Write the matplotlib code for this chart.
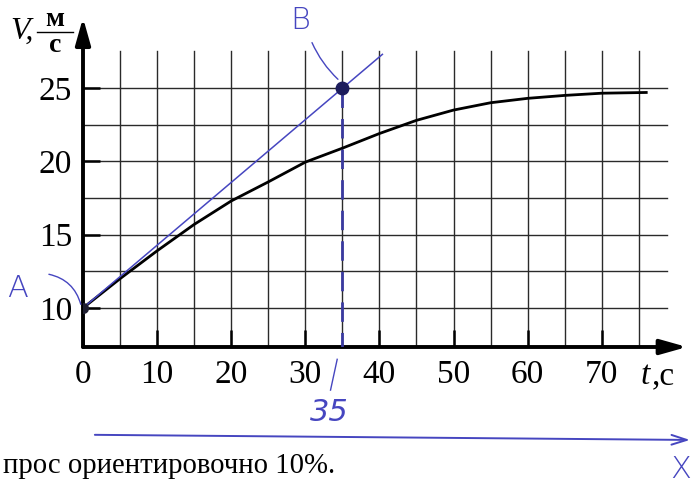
import numpy as np
import matplotlib.pyplot as plt

# curve
t_pts = [0, 5, 10, 15, 20, 25, 30, 35, 40, 45, 50, 55, 60, 65, 70, 76]
v_pts = [10, 12.0, 13.9, 15.7, 17.3, 18.6, 19.95, 20.9, 21.9, 22.8, 23.5, 24.0, 24.3, 24.5, 24.65, 24.7]

# tangent at A, through B
tan_t = [0, 40.4]
tan_v = [10, 27.3]
pt_A = (0, 10)
pt_B = (35, 25)

x_ticks = [0, 10, 20, 30, 40, 50, 60, 70]
y_ticks = [10, 15, 20, 25]
x_grid = [5, 10, 15, 20, 25, 30, 35, 40, 45, 50, 55, 60, 65, 70, 75]
y_grid = [10, 12.5, 15, 17.5, 20, 22.5, 25]

blue = '#4646c0'
serif = 'Liberation Serif'
hand = 'DejaVu Sans'

fig = plt.figure(figsize=(6.94, 4.88), dpi=100)
ybot, ytop = 7.34, 29.8
ax = fig.add_axes([83 / 694, (488 - 347) / 488, 604 / 694, (347 - 17.7) / 488])
ax.set_xlim(0, 81.5)
ax.set_ylim(ybot, ytop)
for s in ax.spines.values():
    s.set_visible(False)

# grid
for g in x_grid:
    ax.plot([g, g], [ybot, 27.5], color='#2a2a2a', lw=1.0, zorder=1)
for g in y_grid:
    ax.plot([0, 78.8], [g, g], color='#2a2a2a', lw=1.0, zorder=1)

# axes with arrows
ax.annotate('', xy=(81.5, ybot), xytext=(0, ybot), annotation_clip=False,
            arrowprops=dict(arrowstyle='-|>,head_length=1.6,head_width=0.45', color='black', lw=2.8,
                            shrinkA=0, shrinkB=0))
ax.annotate('', xy=(0, ytop), xytext=(0, ybot), annotation_clip=False,
            arrowprops=dict(arrowstyle='-|>,head_length=1.6,head_width=0.45', color='black', lw=2.8,
                            shrinkA=0, shrinkB=0))

ax.set_xticks(x_ticks)
ax.set_xticklabels([str(v) for v in x_ticks], fontfamily=serif, fontsize=24)
ax.set_yticks(y_ticks)
ax.set_yticklabels([str(v) for v in y_ticks], fontfamily=serif, fontsize=24)
ax.tick_params(axis='both', direction='in', length=12, width=1.8, color='black')
ax.tick_params(axis='x', pad=9)
ax.tick_params(axis='y', pad=8)

# curve
ax.plot(t_pts, v_pts, color='black', lw=2.0, zorder=3)

# tangent and markings
ax.plot(tan_t, tan_v, color=blue, lw=1.1, zorder=4)
ax.plot([pt_B[0], pt_B[0]], [pt_B[1], ybot], color='#3a3aa0', lw=2.0,
        dashes=(7, 4), zorder=4)
ax.plot(*pt_A, 'o', color='#1e1e30', ms=7, zorder=5)
ax.plot(*pt_B, 'o', color='#1c1c5c', ms=9, zorder=5)

# handwritten labels
ax.text(-8.8, 11.3, 'A', color=blue, fontsize=22, family=hand, fontweight='light',
        ha='center', va='center', clip_on=False)
ax.annotate('', xy=(-0.3, 10.25), xytext=(-4.6, 12.3), annotation_clip=False,
            arrowprops=dict(arrowstyle='-', color=blue, lw=1.0,
                            connectionstyle='arc3,rad=-0.3', shrinkA=0, shrinkB=0))
ax.text(29.3, 29.6, 'B', color=blue, fontsize=22, family=hand, fontweight='light',
        ha='center', va='center', clip_on=False)
ax.annotate('', xy=(34.4, 25.6), xytext=(30.9, 28.1), annotation_clip=False,
            arrowprops=dict(arrowstyle='-', color=blue, lw=1.0,
                            connectionstyle='arc3,rad=0.1', shrinkA=0, shrinkB=0))
ax.plot([34.3, 33.4], [6.5, 4.4], color=blue, lw=1.0, clip_on=False)
ax.text(33.3, 2.9, '35', color=blue, fontsize=22, family=hand, fontweight='light',
        ha='center', va='center', clip_on=False, style='italic')
ax.annotate('', xy=(81.9, 1.0), xytext=(1.6, 1.35), annotation_clip=False,
            arrowprops=dict(arrowstyle='->,head_length=1.1,head_width=0.35', color=blue, lw=1.4,
                            shrinkA=0, shrinkB=0))
ax.text(80.6, -1.0, 'X', color=blue, fontsize=22, family=hand, fontweight='light',
        ha='center', va='center', clip_on=False)

# axis titles
fig.text(641 / 694, 1 - 376 / 488, 't', fontsize=24, family=serif, style='italic',
         ha='left', va='center')
fig.text(652 / 694, 1 - 376 / 488, ',с', fontsize=24, family=serif,
         ha='left', va='center')
fig.text(22 / 694, 1 - 31 / 488, 'V,', fontsize=23, family=serif, style='italic',
         ha='center', va='center')
fig.text(55 / 694, 1 - 20 / 488, 'м', fontsize=20, family=serif, fontweight='bold',
         ha='center', va='center')
fig.text(55 / 694, 1 - 45 / 488, 'с', fontsize=20, family=serif, fontweight='bold',
         ha='center', va='center')
fig.add_artist(plt.Line2D([37 / 694, 73 / 694], [1 - 32 / 488, 1 - 32 / 488],
                          color='black', lw=1.0))

fig.text(3 / 694, 1 - 466 / 488, 'прос ориентировочно 10%.', fontsize=20.7, family=serif,
         ha='left', va='center')

fig.savefig('out.png', dpi=100)
